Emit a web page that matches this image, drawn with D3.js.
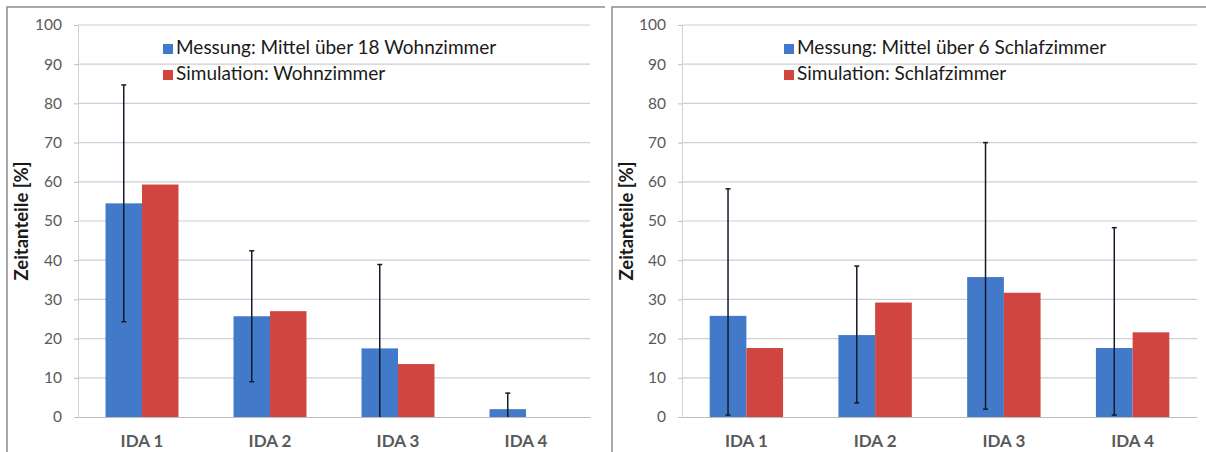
<!DOCTYPE html>
<html>
<head>
<meta charset="utf-8">
<script src="https://cdn.jsdelivr.net/npm/d3@7"></script>
<style>
  body { margin: 0; background: #fff; }
  svg { display: block; font-family: Lato, "Open Sans", sans-serif; }
  .tick text { fill: #595959; }
</style>
</head>
<body>
<div id="chart"></div>
<script>
// ======================================
// Data
// ======================================
var categories = ["IDA 1", "IDA 2", "IDA 3", "IDA 4"];
var yTicks = [0, 10, 20, 30, 40, 50, 60, 70, 80, 90, 100];

// Wohnzimmer (left)
var wohnMessung = [54.5, 25.7, 17.5, 2.0];
var wohnSimulation = [59.3, 27.0, 13.5, 0];
var wohnErrLow = [24.3, 9.0, 0, 0];
var wohnErrHigh = [84.7, 42.4, 38.9, 6.1];
var wohnLegend = ["Messung: Mittel über 18 Wohnzimmer", "Simulation: Wohnzimmer"];

// Schlafzimmer (right)
var schlafMessung = [25.8, 20.9, 35.7, 17.6];
var schlafSimulation = [17.6, 29.2, 31.7, 21.6];
var schlafErrLow = [0.5, 3.6, 2.0, 0.5];
var schlafErrHigh = [58.2, 38.5, 70.0, 48.3];
var schlafLegend = ["Messung: Mittel über 6 Schlafzimmer", "Simulation: Schlafzimmer"];

var yTitle = "Zeitanteile [%]";
var colors = ["#4279c8", "#d0453f"];

var svgWidth = 1206;
var svgHeight = 452;

var svg = d3.select("#chart")
  .append("svg")
  .attr("width", svgWidth)
  .attr("height", svgHeight);

// ======================================
// Helper: draw one panel
// ======================================
function drawPanel(opt) {
  var g = svg.append("g");

  // panel frame (left and top edge)
  g.append("path")
    .attr("d", `M${opt.frameLeft},${svgHeight} V7 H${opt.frameRight}`)
    .attr("fill", "none")
    .attr("stroke", "#8c8c8c")
    .attr("stroke-width", 1.5);

  var x0 = d3.scaleBand()
    .domain(categories)
    .range([opt.left, opt.right])
    .paddingInner(0.43)
    .paddingOuter(0.215);

  var x1 = d3.scaleBand()
    .domain([0, 1])
    .range([0, x0.bandwidth()]);

  var y = d3.scaleLinear()
    .domain([0, 100])
    .range([opt.bottom, opt.top]);

  // gridlines
  g.append("g")
    .selectAll("line")
    .data(yTicks.slice(1))
    .enter()
    .append("line")
    .attr("x1", opt.left)
    .attr("x2", opt.right)
    .attr("y1", d => y(d))
    .attr("y2", d => y(d))
    .attr("stroke", "#cfcfcf")
    .attr("stroke-width", 1.2);

  // y axis
  var yAxis = g.append("g")
    .attr("transform", `translate(${opt.left},0)`)
    .call(d3.axisLeft(y).tickValues(yTicks).tickSize(4).tickPadding(12));
  yAxis.select(".domain").attr("stroke", "#d0d0d0");
  yAxis.selectAll(".tick line").attr("stroke", "#bdbdbd");
  yAxis.selectAll(".tick text").attr("font-size", 15.5).attr("font-family", "Lato");

  // bars
  var series = [opt.messung, opt.simulation];
  series.forEach(function(values, si) {
    g.append("g")
      .selectAll("rect")
      .data(values)
      .enter()
      .append("rect")
      .attr("x", (d, i) => x0(categories[i]) + x1(si))
      .attr("width", x1.bandwidth())
      .attr("y", d => y(d))
      .attr("height", d => y(0) - y(d))
      .attr("fill", colors[si]);
  });

  // x axis
  var xAxis = g.append("g")
    .attr("transform", `translate(0,${opt.bottom})`)
    .call(d3.axisBottom(x0).tickSize(0).tickPadding(18));
  xAxis.select(".domain").attr("stroke", "#bdbdbd").attr("stroke-width", 1.2);
  xAxis.selectAll(".tick text")
    .attr("font-size", 17)
    .attr("font-weight", "bold")
    .attr("font-family", "Lato")
    .attr("fill", "#1a1a1a");

  // error bars (on Messung)
  var errG = g.append("g");
  opt.errHigh.forEach(function(hi, i) {
    var cx = x0(categories[i]) + x1(0) + x1.bandwidth() / 2;
    var lo = opt.errLow[i];
    errG.append("line")
      .attr("x1", cx).attr("x2", cx)
      .attr("y1", y(lo)).attr("y2", y(hi))
      .attr("stroke", "#141a2a")
      .attr("stroke-width", 1.5);
    [lo, hi].forEach(function(v) {
      if (v <= 0) return;
      errG.append("line")
        .attr("x1", cx - 2.5).attr("x2", cx + 2.5)
        .attr("y1", y(v)).attr("y2", y(v))
        .attr("stroke", "#141a2a")
        .attr("stroke-width", 1.5);
    });
  });

  // y axis title
  g.append("text")
    .attr("transform", `translate(${opt.titleX},${(opt.top + opt.bottom) / 2}) rotate(-90)`)
    .attr("text-anchor", "middle")
    .attr("dominant-baseline", "middle")
    .attr("font-size", 18.5)
    .attr("font-weight", "bold")
    .attr("fill", "#1a1a1a")
    .text(yTitle);

  // legend
  opt.legend.forEach(function(label, li) {
    var ly = 49 + li * 26;
    g.append("rect")
      .attr("x", opt.legendX)
      .attr("y", ly - 5)
      .attr("width", 10)
      .attr("height", 10)
      .attr("fill", colors[li]);
    g.append("text")
      .attr("x", opt.legendX + 13)
      .attr("y", ly)
      .attr("dominant-baseline", "middle")
      .attr("font-size", 19)
      .attr("fill", "#1a1a1a")
      .text(label);
  });
}

// ======================================
// Main
// ======================================
drawPanel({
  frameLeft: 7, frameRight: 605,
  left: 78, right: 590, top: 25, bottom: 417,
  titleX: 23, legendX: 163,
  messung: wohnMessung, simulation: wohnSimulation,
  errLow: wohnErrLow, errHigh: wohnErrHigh,
  legend: wohnLegend
});

drawPanel({
  frameLeft: 612, frameRight: 1206,
  left: 682, right: 1197, top: 25, bottom: 417,
  titleX: 628, legendX: 784,
  messung: schlafMessung, simulation: schlafSimulation,
  errLow: schlafErrLow, errHigh: schlafErrHigh,
  legend: schlafLegend
});
</script>
</body>
</html>
